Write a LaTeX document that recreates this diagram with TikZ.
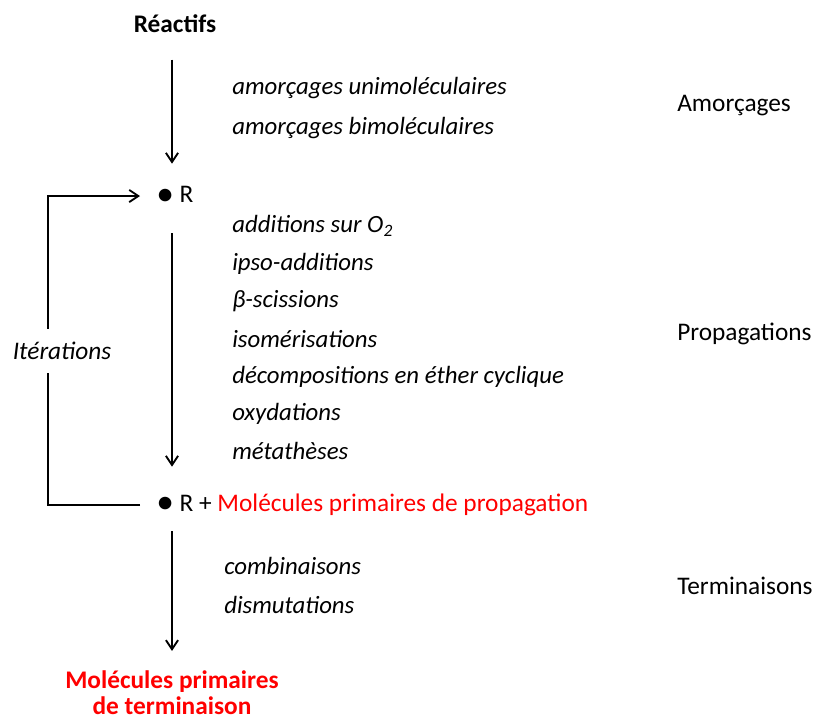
\documentclass[tikz,border=0pt]{standalone}
\usepackage{fontspec}
\setmainfont{Carlito}
\usepackage{xcolor}
\usepackage{tikz}
\usetikzlibrary{arrows.meta}
\definecolor{mechred}{RGB}{255,0,0}
\definecolor{mechink}{gray}{0}
\newcommand{\radbullet}{\raisebox{-.09em}{\scalebox{1.4}{\textbullet}}}

\begin{document}
\begin{tikzpicture}[
  x=.75pt,y=-.75pt,
  every node/.append style={font=\fontsize{19}{19.5}\selectfont,text=mechink},
  wire/.style={-{Straight Barb[length=2.4mm,width=3.2mm]},draw=mechink,line width=1.4pt},
  loopline/.style={draw=mechink,line width=1.4pt},
  radical/.style={anchor=west,inner xsep=12pt},
  mech/.style={anchor=west,inner xsep=0pt,font=\fontsize{18.6}{19.5}\selectfont\itshape},
  phase/.style={anchor=west,inner xsep=0pt},
]
  \useasboundingbox (0,0) rectangle (818,722);
  \coordinate (axis) at (172,0);
  \coordinate (loopx) at (48,0);

  % main chain, top to bottom
  \node[font=\fontsize{19}{19.5}\selectfont\bfseries] (reac) at (175,24) {Réactifs};
  \node[radical] (rad) at (140,196) {\radbullet\ R};
  \node[radical] (radprop) at (140,505)
    {\radbullet\ R + \textcolor{mechred}{Molécules primaires de propagation}};
  \node[align=center,font=\fontsize{19}{19.5}\selectfont\bfseries,text=mechred]
    (term) at (172,693) {Molécules primaires\\de terminaison};

  \draw[wire,shorten <=16.5pt,shorten >=13.8pt] (reac.south -| axis) -- (rad.north -| axis);
  \draw[wire,shorten <=17.5pt,shorten >=17pt] (rad.south -| axis) -- (radprop.north -| axis);
  \draw[wire,shorten <=8pt,shorten >=11.5pt] (radprop.south -| axis) -- (term.north -| axis);

  % iteration loop on the left
  \node[font=\fontsize{19}{19.5}\selectfont\itshape,inner ysep=10pt] (iter) at (62,351) {Itérations};
  \draw[loopline] (radprop.west) -- (radprop.west -| loopx) -- (iter.south -| loopx);
  \draw[wire] (iter.north -| loopx) -- (rad.west -| loopx) -- (rad.west);

  % elementary steps
  \node[mech] (uni) at (232,88) {amorçages unimoléculaires};
  \node[mech] (bi) at (232,128) {amorçages bimoléculaires};
  \node[mech] (addo) at (232,226) {additions sur O\textsubscript{2}};
  \node[mech] (ipso) at (232,264) {ipso-additions};
  \node[mech] (beta) at (232,301) {β-scissions};
  \node[mech] (isom) at (232,339) {isomérisations};
  \node[mech] (ether) at (232,377) {décompositions en éther cyclique};
  \node[mech] (oxy) at (232,414) {oxydations};
  \node[mech] (meta) at (232,451) {métathèses};
  \node[mech] (comb) at (224,566) {combinaisons};
  \node[mech] (dism) at (224,605) {dismutations};

  % phases
  \node[phase] (amor) at (677,106) {Amorçages};
  \node[phase] (prop) at (677,334) {Propagations};
  \node[phase] (termi) at (677,586) {Terminaisons};
\end{tikzpicture}
\end{document}
